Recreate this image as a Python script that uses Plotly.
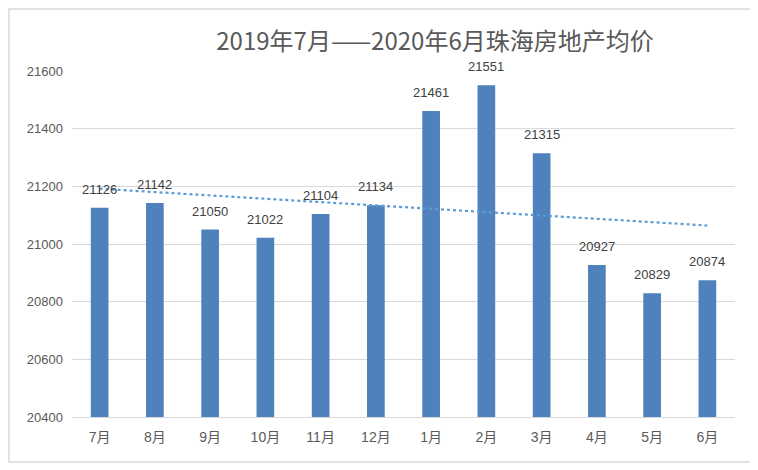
import numpy as np
import plotly.graph_objects as go

months = ["7月", "8月", "9月", "10月", "11月", "12月", "1月", "2月", "3月", "4月", "5月", "6月"]
avg_price = [21126, 21142, 21050, 21022, 21104, 21134, 21461, 21551, 21315, 20927, 20829, 20874]
y_ticks = [20400, 20600, 20800, 21000, 21200, 21400, 21600]

# linear trendline, like Excel's
idx = np.arange(1, len(avg_price) + 1)
slope, intercept = np.polyfit(idx, avg_price, 1)
trend = slope * idx + intercept

# page has an 8px body margin, so the figure is a bit smaller than the window
W, H = 750, 462
ml, mr, mt, mb = 64, 23, 63, 53

fig = go.Figure()
fig.add_trace(go.Bar(
    x=months, y=avg_price,
    marker=dict(color="#4F81BD", line=dict(width=0)),
    width=0.32,
    showlegend=False,
))
fig.add_trace(go.Scatter(
    x=months, y=trend, mode="lines",
    line=dict(color="#5B9BD5", width=2.2, dash="dot"),
    showlegend=False, hoverinfo="skip",
))

# value labels above the bars
for m, v in zip(months, avg_price):
    fig.add_annotation(
        x=m, y=v, text=str(v), showarrow=False,
        yanchor="bottom", yshift=9,
        font=dict(size=13, color="#404040"),
    )

fig.update_layout(
    width=W, height=H,
    margin=dict(l=ml, r=mr, t=mt, b=mb),
    paper_bgcolor="white", plot_bgcolor="white",
    font=dict(family="Liberation Sans, Noto Sans CJK SC, sans-serif", color="#595959"),
    title=dict(
        text="2019年7月——2020年6月珠海房地产均价",
        font=dict(size=24, color="#595959", family="Noto Sans CJK SC, sans-serif"),
        xref="container", x=427 / W, xanchor="center",
        yref="container", y=1 - 34 / H, yanchor="middle",
    ),
    shapes=[dict(
        type="rect", xref="paper", yref="paper",
        x0=(1 - ml) / (W - ml - mr), x1=(W - 2 - ml) / (W - ml - mr),
        y0=(H - mb - (H - 8)) / (H - mt - mb), y1=(H - mb - 1) / (H - mt - mb),
        line=dict(color="#D9D9D9", width=1.5), fillcolor="rgba(0,0,0,0)", layer="below",
    )],
)
fig.update_xaxes(
    showline=True, linecolor="#D9D9D9", linewidth=1,
    tickfont=dict(size=14, color="#595959"), ticks="", showgrid=False,
    ticklabelstandoff=7,
)
fig.update_yaxes(
    range=[20400, 21600], tickvals=y_ticks, ticktext=[str(v) for v in y_ticks],
    showgrid=True, gridcolor="#D9D9D9", gridwidth=1,
    zeroline=False, ticks="", tickfont=dict(size=13, color="#595959"),
    ticklabelstandoff=8,
)

fig.write_html("out.html")
